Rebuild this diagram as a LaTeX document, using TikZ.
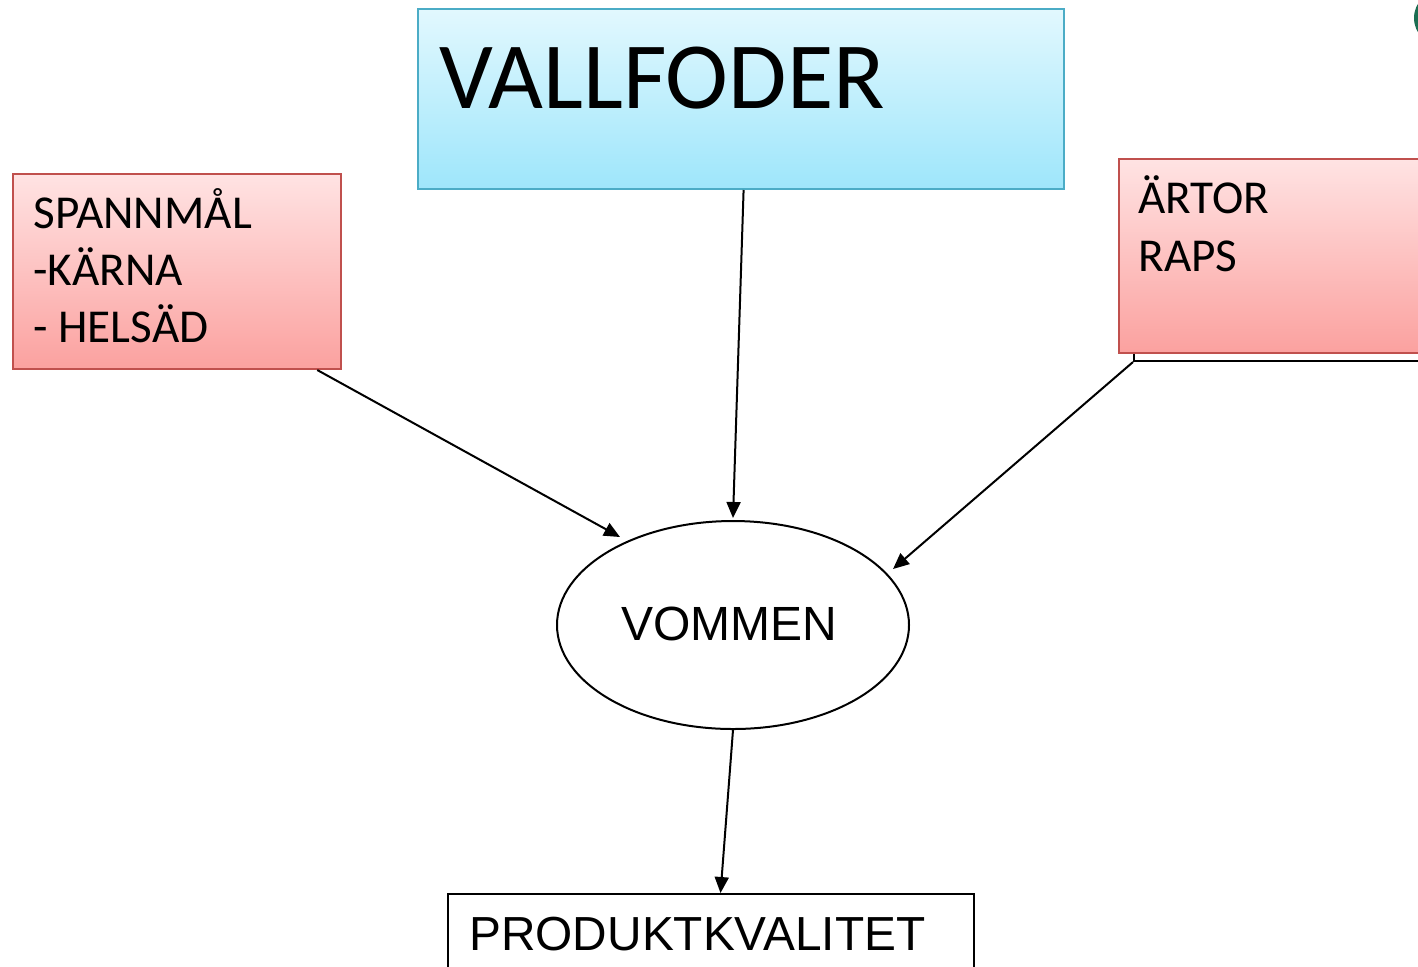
\documentclass[tikz,border=0pt]{standalone}
\usepackage{fontspec}
\setmainfont{Carlito}
\newfontfamily\fcal{Carlito}
\newfontfamily\fari{Liberation Sans}
\usetikzlibrary{arrows.meta,calc,shapes.geometric}
\definecolor{blueedge}{HTML}{4BACC6}
\definecolor{bluetop}{HTML}{E2F8FE}
\definecolor{bluebot}{HTML}{9EE6FB}
\definecolor{rededge}{HTML}{C0504D}
\definecolor{redtop}{HTML}{FFE3E3}
\definecolor{redbot}{HTML}{FBA19F}
\definecolor{logogreen}{HTML}{1B6E52}
\tikzset{
  bluebox/.style={draw=blueedge, line width=1pt, top color=bluetop, bottom color=bluebot, rectangle, anchor=north west, inner sep=0pt},
  redbox/.style={draw=rededge, line width=1pt, top color=redtop, bottom color=redbot, rectangle, anchor=north west, inner sep=0pt},
  plainbox/.style={draw=black, line width=1pt, fill=white, rectangle, anchor=north west, inner sep=0pt},
  boxtext/.style={anchor=base west, inner sep=0pt, font=\fcal\fontsize{23.6}{28}\selectfont},
  conn/.style={line width=1pt, -{Triangle[length=8pt,width=7pt]}},
}
\begin{document}
\begin{tikzpicture}[x=0.5pt,y=-0.5pt]
\useasboundingbox (0,0) rectangle (1418,966);
\begin{scope}
\clip (0,0) rectangle (1418,966);
% logo fragment top right
\fill[logogreen] (1442,18) circle (28);
% box behind ARTOR
\node[plainbox, minimum width=160pt, minimum height=100pt] (back) at (1133,160) {};
% ARTOR box
\node[redbox, minimum width=160pt, minimum height=97pt] (artor) at (1118,158) {};
% PRODUKTKVALITET box
\node[plainbox, minimum width=263pt, minimum height=60pt] (prod) at (447,893) {};
\end{scope}
% VALLFODER
\node[bluebox, minimum width=323pt, minimum height=90pt] (vall) at (417,8) {};
\node[anchor=base west, inner sep=0pt, font=\fcal\fontsize{47.4}{50}\selectfont] (valltxt) at (439,108) {VALLFODER};
% SPANNMAL
\node[redbox, minimum width=164pt, minimum height=97.5pt] (spann) at (12,173) {};
\node[boxtext] (t1) at (33,228) {SPANNMÅL};
\node[boxtext] (t2) at (33,285) {-KÄRNA};
\node[boxtext] (t3) at (33,342) {- HELSÄD};
% ARTOR text
\node[boxtext] (t4) at (1138,213) {ÄRTOR};
\node[boxtext] (t5) at (1138,271) {RAPS};
% VOMMEN
\node[draw, line width=1pt, ellipse, minimum width=176pt, minimum height=104pt, inner sep=0pt] (vommen) at (733,625) {};
\node[anchor=base, inner sep=0pt, font=\fari\fontsize{24}{28}\selectfont] (vomtxt) at (729,640) {VOMMEN};
% PRODUKTKVALITET text
\node[anchor=base west, inner sep=0pt, font=\fari\fontsize{23.9}{28}\selectfont] (prodtxt) at (469,950) {PRODUKTKVALITET};
% connectors
\coordinate (backcorner) at (back.south west);
\draw[conn] ($(vall.south west)!0.504!(vall.south east)$) -- ($(vommen.north)+(0,-2)$);
\draw[conn] ($(spann.south west)!0.925!(spann.south east)$) -- ($(vommen.center)+(-113,-88)$);
\draw[conn] (backcorner) -- ($(vommen.center)+(160,-56)$);
\draw[conn] (vommen.south) -- ($(prod.north west)!0.518!(prod.north east)$);
\end{tikzpicture}
\end{document}
